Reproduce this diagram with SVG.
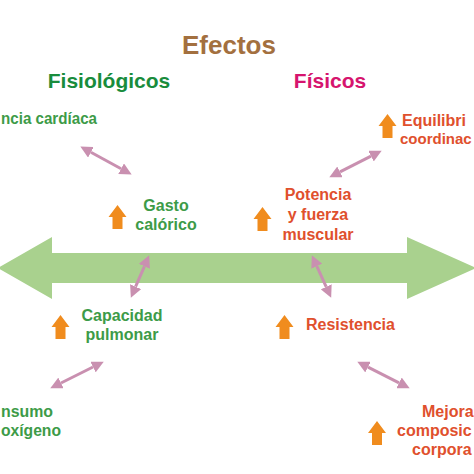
<svg xmlns="http://www.w3.org/2000/svg" xmlns:xlink="http://www.w3.org/1999/xlink" width="474" height="474" viewBox="0 0 474 474">
<style>
text{font-family:"Liberation Sans",Arial,sans-serif;font-weight:bold}
.g{fill:#3d9b48;font-size:16px}
.r{fill:#e0502d;font-size:16px}
.c{stroke:#c990b0;stroke-width:3;fill:none;marker-start:url(#ah);marker-end:url(#ah)}
.up{fill:#f08c1e}
</style>
<defs>
<marker id="ah" markerUnits="userSpaceOnUse" markerWidth="12" markerHeight="12" viewBox="0 -5 10 10" refX="0" refY="0" orient="auto-start-reverse">
<path d="M0,-5 L10,0 L0,5 z" fill="#c990b0"/>
</marker>
<path id="uparrow" d="M0,0 L9,12 L5,12 L5,24 L-5,24 L-5,12 L-9,12 Z"/>
</defs>
<rect width="474" height="474" fill="#ffffff"/>
<polygon id="axis" points="-2,268 52,237 52,253 407,253 407,237 476,268 407,299 407,283 52,283 52,299" fill="#a9d18e"/>
<g id="headers">
<text x="229" y="54" text-anchor="middle" style="font-size:26px;fill:#a3703f">Efectos</text>
<text x="109" y="88" text-anchor="middle" style="font-size:21px;fill:#198c3c">Fisiológicos</text>
<text x="330" y="88" text-anchor="middle" style="font-size:21px;fill:#d6146e">Físicos</text>
</g>
<g id="connectors">
<line class="c" x1="90.9" y1="152.3" x2="121.1" y2="168.7"/>
<line class="c" x1="340" y1="171.9" x2="371" y2="156.1"/>
<line class="c" x1="135.6" y1="286.7" x2="144.4" y2="266.3"/>
<line class="c" x1="316.8" y1="266.2" x2="326.2" y2="286.8"/>
<line class="c" x1="61" y1="383" x2="93" y2="367"/>
<line class="c" x1="368" y1="367.1" x2="399" y2="382.9"/>
</g>
<g id="frecuencia">
<text class="g" x="1" y="124" textLength="96" lengthAdjust="spacingAndGlyphs">ncia cardíaca</text>
</g>
<g id="gasto">
<use class="up" xlink:href="#uparrow" x="117.5" y="205"/>
<text class="g" x="166" y="211" text-anchor="middle">Gasto</text>
<text class="g" x="166" y="230" text-anchor="middle">calórico</text>
</g>
<g id="capacidad">
<use class="up" xlink:href="#uparrow" x="60.5" y="315"/>
<text class="g" x="122" y="321" text-anchor="middle">Capacidad</text>
<text class="g" x="122" y="340" text-anchor="middle">pulmonar</text>
</g>
<g id="consumo">
<text class="g" x="1" y="417" textLength="52" lengthAdjust="spacingAndGlyphs">nsumo</text>
<text class="g" x="1" y="436" textLength="60" lengthAdjust="spacingAndGlyphs">oxígeno</text>
</g>
<g id="equilibrio">
<use class="up" xlink:href="#uparrow" x="387.5" y="114"/>
<text class="r" x="402" y="126">Equilibri</text>
<text class="r" x="400" y="144" style="font-size:15px">coordinac</text>
</g>
<g id="potencia">
<use class="up" xlink:href="#uparrow" x="262.5" y="207"/>
<text class="r" x="318" y="200" text-anchor="middle">Potencia</text>
<text class="r" x="318" y="220" text-anchor="middle">y fuerza</text>
<text class="r" x="318" y="240" text-anchor="middle">muscular</text>
</g>
<g id="resistencia">
<use class="up" xlink:href="#uparrow" x="284.5" y="315"/>
<text class="r" x="306" y="330">Resistencia</text>
</g>
<g id="mejora">
<use class="up" xlink:href="#uparrow" x="377" y="421"/>
<text class="r" x="422" y="417">Mejora</text>
<text class="r" x="397" y="436">composic</text>
<text class="r" x="412" y="455">corpora</text>
</g>
</svg>
